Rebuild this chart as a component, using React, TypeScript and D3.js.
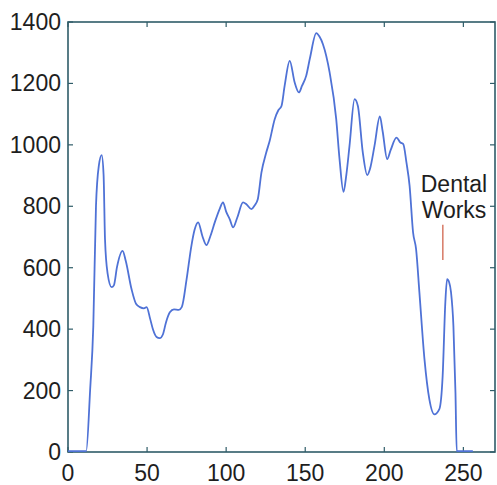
import React, { useRef, useEffect } from 'react'
import * as d3 from 'd3'

// curve (x index, intensity)
const xVals = [
  0, 11.5, 14, 16, 17.7, 19.5, 21.3, 22.5, 23.4, 25, 27.6, 29, 31, 34.5, 36.5, 40.2, 43, 45.5, 48, 49.7,
  52, 53.7, 56, 58, 60, 62, 64.4, 67, 70, 72, 75, 78, 80, 82.3, 85, 87.5, 90, 92.8, 96, 98,
  100, 102.3, 104.4, 107, 110.7, 112.8, 116, 118, 120, 122.3, 125.4, 127.5, 130.7, 133, 135, 137, 140.2, 143.3, 146, 148,
  150.6, 153, 157, 159, 161.2, 165.4, 169.6, 171.7, 174.2, 176, 178, 181.2, 183.3, 186.4, 189.2, 191, 193.8, 197.2, 199, 201.8,
  204, 207.7, 210.2, 212, 214, 216, 218.2, 220.1, 222.2, 225.4, 228.5, 231.7, 234.8, 236.9, 238.6, 239.7, 241, 242.2, 243.7, 245,
  245.8, 256,
]
const yVals = [
  0, 0, 200, 408, 799, 930, 964, 900, 690, 580, 534, 540, 600, 652, 620, 527, 480, 469, 465, 469,
  430, 397, 372, 368, 380, 420, 452, 462, 460, 470, 560, 668, 720, 745, 700, 671, 700, 745, 790, 810,
  780, 755, 729, 760, 810, 804, 788, 800, 820, 907, 973, 1010, 1081, 1110, 1124, 1190, 1271, 1201, 1168, 1190,
  1222, 1280, 1361, 1350, 1325, 1234, 1081, 951, 844, 900, 994, 1146, 1124, 973, 899, 920, 994, 1090, 1040, 951,
  980, 1021, 1005, 1000, 940, 864, 712, 658, 517, 300, 169, 120, 137, 245, 485, 560, 550, 517, 408, 191,
  0, 0,
]
const xTicks = [0, 50, 100, 150, 200, 250]
const yTicks = [0, 200, 400, 600, 800, 1000, 1200, 1400]
const markerX = 237
const markerY = [740, 625]
const labelLines = ['Dental', 'Works']

const W = 497
const H = 485

export default function App() {
  const svgRef = useRef<SVGSVGElement>(null)

  useEffect(() => {
    const margin = { top: 22, right: 2, bottom: 33, left: 68 }
    const x = d3.scaleLinear().domain([0, 270]).range([margin.left, W - margin.right])
    const y = d3.scaleLinear().domain([0, 1400]).range([H - margin.bottom, margin.top])

    const svg = d3.select(svgRef.current!)
    svg.selectAll('*').remove()

    svg.append('rect').attr('width', W).attr('height', H).attr('fill', 'white')

    const frame = '#2f5c68'
    const font = 'Liberation Sans, Arial, sans-serif'

    // frame
    svg
      .append('rect')
      .attr('x', x(0))
      .attr('y', y(1400))
      .attr('width', x(270) - x(0))
      .attr('height', y(0) - y(1400))
      .attr('fill', 'none')
      .attr('stroke', frame)
      .attr('stroke-width', 1.6)

    // inward ticks on all four sides
    const tl = 5
    xTicks.forEach((t) => {
      svg.append('line').attr('x1', x(t)).attr('x2', x(t)).attr('y1', y(0)).attr('y2', y(0) - tl).attr('stroke', frame).attr('stroke-width', 1.2)
      svg.append('line').attr('x1', x(t)).attr('x2', x(t)).attr('y1', y(1400)).attr('y2', y(1400) + tl).attr('stroke', frame).attr('stroke-width', 1.2)
      svg
        .append('text')
        .attr('x', x(t))
        .attr('y', y(0) + 29)
        .attr('text-anchor', 'middle')
        .style('font-family', font)
        .style('font-size', '23px')
        .attr('fill', '#1e1e1e')
        .text(t)
    })
    yTicks.forEach((t) => {
      svg.append('line').attr('x1', x(0)).attr('x2', x(0) + tl).attr('y1', y(t)).attr('y2', y(t)).attr('stroke', frame).attr('stroke-width', 1.2)
      svg.append('line').attr('x1', x(270)).attr('x2', x(270) - tl).attr('y1', y(t)).attr('y2', y(t)).attr('stroke', frame).attr('stroke-width', 1.2)
      svg
        .append('text')
        .attr('x', x(0) - 7)
        .attr('y', y(t) + 8)
        .attr('text-anchor', 'end')
        .style('font-family', font)
        .style('font-size', '23px')
        .attr('fill', '#1e1e1e')
        .text(t)
    })

    // data line, drawn over the frame so the zero runs show
    const pts = xVals.map((d, i) => [d, yVals[i]] as [number, number])
    const line = d3
      .line<[number, number]>()
      .x((d) => x(d[0]))
      .y((d) => y(d[1]) - 0.8)
      .curve(d3.curveMonotoneX)
    svg
      .append('path')
      .datum(pts)
      .attr('d', line)
      .attr('fill', 'none')
      .attr('stroke', '#4f72d6')
      .attr('stroke-width', 1.8)

    // annotation
    svg
      .append('line')
      .attr('x1', x(markerX))
      .attr('x2', x(markerX))
      .attr('y1', y(markerY[0]))
      .attr('y2', y(markerY[1]))
      .attr('stroke', '#d9826f')
      .attr('stroke-width', 1.6)
    labelLines.forEach((s, i) => {
      svg
        .append('text')
        .attr('x', 454)
        .attr('y', 192 + i * 26)
        .attr('text-anchor', 'middle')
        .style('font-family', font)
        .style('font-size', '23px')
        .attr('fill', '#1e1e1e')
        .text(s)
    })
  }, [])

  return (
    <svg
      ref={svgRef}
      width={W}
      height={H}
      style={{ position: 'absolute', left: 0, top: 0, display: 'block' }}
    />
  )
}
